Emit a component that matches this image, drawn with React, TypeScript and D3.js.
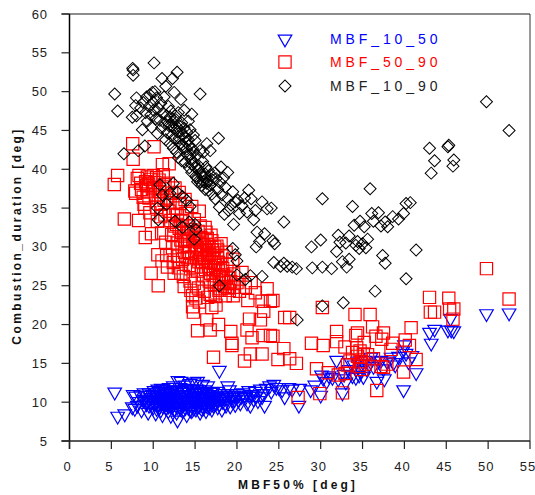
import React from "react";
import * as d3 from "d3";

const xTicks = [0,5,10,15,20,25,30,35,40,45,50,55];
const yTicks = [5,10,15,20,25,30,35,40,45,50,55,60];

const mbf1050: [number,number][] = [
[5.4,11.3],[5.75,8.2],[6.6,8.5],[7.6,11],[7.9,10.8],[7.5,9.4],[7.8,9.2],[8.1,9.6],[8.3,10.1],[8.6,9],[8.5,10.9],[8.9,11.2],[9,10.4],[9.2,9.8],[9.4,8.7],[9.5,11.2],[9.7,10.6],[9.8,10],[10,9.4],[10.1,11.5],[10.2,10.9],[10.3,8.6],[10.5,10.2],[10.6,9.7],[10.7,11.4],[10.8,11],[10.9,9],[11,10.4],[11.1,8.4],[11.2,11.7],[11.3,9.9],[11.4,10.7],[11.5,9.3],[11.6,11.2],[11.7,10.1],[11.8,8.9],[11.9,11.9],[12,10.5],[12.05,9.6],[12.1,8.3],[12.2,11.1],[12.3,10],[12.4,12.1],[12.5,9.1],[12.6,10.8],[12.7,11.5],[12.8,8.7],[12.9,7.7],[12.95,12.8],[13,10.3],[13.1,9.5],[13.2,11.9],[13.3,12.7],[13.4,10.9],[13.5,8.9],[13.6,11.3],[13.7,9.9],[13.8,12.2],[13.9,10.6],[14,8.4],[14.1,11.6],[14.2,9.3],[14.3,10.1],[14.4,12.4],[14.5,10.9],[14.6,8.9],[14.7,11.3],[14.8,9.7],[14.9,12.6],[15,10.4],[15.1,9.1],[15.2,11.7],[15.3,12.7],[15.4,10.7],[15.5,9.5],[15.6,8.7],[15.7,11.2],[15.8,10],[15.9,12.3],[16,9.3],[16.1,10.8],[16.2,11.6],[16.3,8.9],[16.4,10.3],[16.5,12.1],[16.6,9.7],[16.7,11],[16.8,10.4],[17,9.1],[17.1,11.3],[17.3,9.8],[17.4,10.6],[17.9,14.1],[17.6,11.4],[17.7,9.4],[17.8,10.3],[18,10.9],[18.2,9.1],[18.3,10.1],[18.5,11.1],[18.7,9.6],[18.8,10.6],[18.9,12.1],[19.1,11.6],[19.2,9.5],[19.4,10.3],[19.6,10.9],[19.8,9.7],[20,11.1],[20.2,10.3],[20.5,10.7],[20.7,11.2],[21,10.6],[21.2,9.9],[21.4,11.5],[21.6,9.6],[21.8,11],[22,10.4],[22.2,11.4],[22.5,10.2],[22.8,11.7],[23.1,11.1],[23.3,9.6],[23.5,11.8],[23.9,12.1],[24.1,11.4],[24.4,12.3],[24.7,11.9],[25.7,10.7],[25,11.9],[25.4,11.6],[26.2,11.9],[26.6,11.7],[27.4,9.6],[27.5,11.8],[28.8,11.6],[29.3,12.2],[30,10.9],[30.1,13.5],[30.3,13.1],[30.7,12.7],[31,13.4],[31.4,13.2],[31.9,15.4],[32.1,13],[32.6,11.2],[32.8,13.6],[33,12.6],[33.3,14.2],[33.6,15.1],[33.8,13.4],[34,14.8],[34.2,13.2],[34.4,15.3],[34.6,13.5],[34.8,14.1],[34.9,14.9],[35.1,13.3],[35.3,15.4],[35.5,14.3],[35.8,14.9],[36,15.8],[36.3,14.6],[36.7,12.7],[36.9,15.3],[37.2,15.4],[37.5,14.3],[37.6,13],[37.9,15.3],[38.4,15.8],[38.7,15.1],[38.9,14.8],[39.3,15.9],[39.8,16.6],[40,17.4],[40.2,16.3],[40.5,15.2],[40.9,16],[39.9,11.6],[41.4,13.8],[43,19],[43.6,19.4],[43.2,17.6],[45.2,19.3],[45.6,19.3],[45.9,19.2],[45.5,20.8],[49.8,21.4],[52.5,21.5],
[8.8,10.3],[9.1,10.9],[9.3,10.2],[9.5,9.6],[9.6,10.9],[9.9,11],[10,10.3],[10.15,9.9],[10.25,11.2],[10.4,9.2],[10.45,10.7],[10.55,11.7],[10.65,10.3],[10.75,9.4],[10.85,10.6],[10.95,11.8],[11.05,10],[11.15,9.5],[11.25,10.9],[11.35,11.4],[11.45,10.2],[11.55,9.8],[11.65,10.6],[11.75,11.6],[11.85,9.5],[11.95,10.2],[12.02,11.3],[12.15,10.3],[12.25,9.4],[12.35,11.5],[12.45,10.4],[12.55,9.9],[12.65,11.9],[12.75,10.1],[12.85,9.4],[12.92,11],[13.05,11.6],[13.15,10.6],[13.25,9.2],[13.35,10.2],[13.45,11.5],[13.55,9.6],[13.65,10.4],[13.75,11],[13.85,9.3],[13.95,11.8],[14.05,10],[14.15,10.8],[14.25,11.3],[14.35,9.7],[14.45,9],[14.55,11.7],[14.65,10.2],[14.75,10.6],[14.85,9.2],[14.95,11.1],[15.05,9.9],[15.15,10.7],[15.25,11.2],[15.35,9.5],[15.45,10.1],[15.55,11.6],[15.65,10.4],[15.75,9.2],[15.85,10.8],[15.95,11.4],[16.05,10],[16.15,9.6],[16.25,10.6],[16.35,11.2],[16.45,9.5],[16.55,10.8],[16.65,10.1],[16.75,9.4],[16.85,11.3],[16.95,10.2],[17.05,10.7],[17.2,9.6],[17.25,10.3],[17.5,9.9],[17.65,10.8],[17.9,9.8],[18.1,10.4],[18.4,10.7],[18.6,9.9],[19,10.9],[19.3,10.6],[19.7,10.3],[20.1,10.8],[20.4,9.9],[20.9,10.9],[21.5,10.8],[22.3,10.8],[23,10.7]
];

const mbf5090: [number,number][] = [
[5.35,38.05],[5.75,39.2],[6.55,33.6],[7.55,43.3],[7.6,41.3],[7.8,37.2],[7.9,36.9],[8.25,33.4],[8.1,38.8],[8.3,39.2],[8.5,38.2],[8.6,37.4],[8.8,36.4],[8.9,35.5],[9,35],[9.05,31.2],[9.2,37.9],[9.3,39],[9.45,38.1],[9.5,36.3],[9.6,34.4],[9.8,31.7],[9.75,26.6],[9.9,37.5],[10.1,42.9],[10,39.2],[10.2,38.3],[10.3,36.7],[10.4,35.1],[10.5,33.3],[10.55,29],[10.6,25],[10.7,38.6],[10.8,37.1],[10.9,33.9],[11,31.8],[11.05,28.2],[11.1,40.6],[11.2,39.3],[11.3,36],[11.4,34.1],[11.5,30.6],[11.6,28.9],[11.7,27.4],[11.8,38.2],[11.9,40.7],[12,35.7],[12.1,33.4],[12.2,31.6],[12.3,29.9],[12.4,28],[12.5,26.6],[12.6,37.6],[12.7,35],[12.8,32.9],[12.85,30.5],[12.9,28.8],[13,27.3],[13.1,37],[13.2,35.6],[13.3,33.3],[13.4,31.9],[13.45,30.1],[13.5,28.4],[13.6,26.2],[13.7,24.9],[13.8,36.1],[13.9,34.3],[14,32.7],[14.1,31],[14.2,29.4],[14.3,27.6],[14.4,25.6],[14.5,24.4],[14.7,22.3],[14.8,21.6],[14.6,35.2],[14.9,33.5],[15,31.7],[15.1,30.2],[15.2,28.6],[15.3,26.9],[15.3,19.2],[15.4,24.7],[15.5,34.6],[15.6,32.7],[15.7,31.2],[15.8,29.7],[15.9,28.1],[16,26.4],[16.1,24.3],[16.2,32.5],[16.3,31.9],[16.4,30.3],[16.5,28.9],[16.4,20.6],[16.6,27.5],[16.7,25.6],[16.8,23.9],[16.8,19.3],[16.9,31.5],[17,30.8],[17.1,29.2],[17.2,27.1],[17.2,15.8],[17.3,25.1],[17.4,23.6],[17.5,22.5],[17.6,30.1],[17.7,29.6],[17.8,28],[17.8,20],[17.9,26.2],[18,24.6],[18.1,30.4],[18.2,28.9],[18.3,27.2],[18.4,25.4],[18.6,23.7],[18.7,29.3],[18.8,27.8],[19,26],[19.1,24.4],[19.26,19.1],[19.4,17.6],[19.4,17.3],[19.5,28.4],[19.6,26.5],[19.7,24.8],[20,25.4],[20.3,24.3],[20.6,26.7],[20.9,15.3],[21,24.8],[21.2,19.3],[21.3,23.1],[21.5,20.7],[21.6,16.2],[21.7,25.4],[21.8,18.3],[22.2,24.1],[22.8,20.6],[23,16.2],[23,23],[23.1,18.6],[23.2,21.7],[23.6,24.6],[24,18.6],[24,23],[24.3,23.1],[24.3,18.5],[24.9,15.5],[25.6,16.9],[25.7,20.9],[26.3,20.9],[26.3,15.6],[27.1,15],[27.3,10.6],[28.9,17.6],[29.5,14.3],[29.9,11.1],[30.2,22.2],[30.3,17.3],[30.9,13.8],[31.9,19.1],[31.9,17.8],[32.1,13.5],[32.6,11.2],[32.9,17.1],[32.9,13.7],[33.2,14.8],[33.5,15.3],[33.8,16.4],[34.1,21.3],[34.2,18.6],[34.3,17],[34.4,18.9],[34.4,15.9],[34.6,14.6],[34.7,16.6],[34.8,15.2],[34.9,14.2],[35.1,16.2],[35.2,17.7],[35.3,14.9],[35.6,16.1],[35.9,21.3],[36.2,19.7],[36.3,15.6],[36.6,18.5],[36.7,11.5],[37.3,18.1],[37.5,18.9],[37.2,14.6],[37.5,14.5],[37.9,14.9],[38.6,17.6],[38.4,16.8],[39.9,13.9],[40.1,18],[40.6,17.3],[40.8,19.6],[41.4,15.5],[43,23.5],[43.1,21.6],[43.6,21.6],[45.3,23.4],[45.4,22],[45.9,22],[45.8,20.7],[49.8,27.2],[52.5,23.3],
[9.1,38.4],[9.4,37.2],[9.7,38.7],[10.1,37.7],[10.4,38.9],[10.6,36.4],[10.9,35.6],[11.1,37.5],[11.4,38],[11.6,36.3],[11.9,34.6],[12.2,36.9],[12.4,34.2],[12.6,32.7],[12.9,34.1],[13.1,32.4],[13.3,30.9],[13.5,33.4],[13.7,31.4],[13.75,29.3],[13.9,30.7],[14.05,28.6],[14.2,31.9],[14.35,30.1],[14.5,32.2],[14.6,28.7],[14.75,30.8],[14.85,27.4],[15,29.5],[15.1,31.2],[15.25,29.9],[15.35,32],[15.45,28.1],[15.55,30.6],[15.65,29.3],[15.75,27.4],[15.85,31],[15.95,29.1],[16.05,30.2],[16.15,28.5],[16.25,27.1],[16.35,29.6],[16.45,31.1],[16.55,28.2],[16.65,30],[16.75,29],[16.85,26.6],[16.95,28],[17.05,29.6],[17.15,26.3],[17.25,28.5],[17.35,30],[17.45,27.6],[17.55,25.8],[17.65,28.6],[17.75,26.9],[17.85,24.4],[18.05,27],[18.15,25.4],[18.35,26.4],[18.55,24.9],[18.75,26],[18.95,24.7],[19.25,25.5],[19.55,23.7],[13.3,26.6],[14.9,25.3],[14.7,23.7],[15.1,23.4],[15.5,22.9],[16.5,23.5],[17,22.2]
];

const mbf1090: [number,number][] = [
[5.4,49.7],[5.75,47.5],[6.5,42],[7.5,46.7],[7.55,53],[7.6,52.1],[7.6,52.8],[7.9,48.2],[8,46.9],[8,49.2],[8.2,42.4],[8.5,47.9],[8.7,45.1],[8.8,48.6],[9,43],[9.1,47.3],[9.2,49.3],[9.3,46.2],[9.5,48.1],[9.6,49.6],[9.7,47],[9.8,45.4],[9.9,49.9],[10,48.6],[10.1,53.7],[10.05,47.6],[10.2,50],[10.3,46.5],[10.4,49.2],[10.5,44.6],[10.6,47.9],[10.8,46.3],[10.9,48.5],[11.05,51.7],[11,45.3],[11.2,47.2],[11.3,49.3],[11.5,50.7],[11.4,45.9],[11.5,43.8],[11.6,46.9],[11.7,44.7],[11.8,48.1],[11.9,45.6],[12,46.7],[12,43.3],[12.1,47.5],[12.2,44.3],[12.3,51.7],[12.3,46.1],[12.4,42.7],[12.5,45.2],[12.5,49.9],[12.6,43.9],[12.7,46.4],[12.85,52.5],[12.8,42.2],[12.9,44.8],[13,47.3],[13,41.5],[13.1,45.6],[13.2,43.3],[13.3,49],[13.4,46],[13.4,41.1],[13.5,44.4],[13.6,42.7],[13.7,45.3],[13.7,47.6],[13.8,40.9],[13.9,43.5],[14,44.8],[14.1,41.9],[14.2,46.2],[14.3,40.2],[14.3,43.1],[14.4,45.1],[14.5,41.3],[14.6,47.1],[14.6,39.6],[14.7,42.6],[14.8,44.4],[14.9,40.8],[15,43.7],[15.1,39.1],[15.2,41.8],[15.3,38.4],[15.4,40.5],[15.6,49.7],[15.6,42.4],[15.7,39.6],[15.8,37.9],[15.9,41],[16,42.2],[16.1,39],[16.2,37.4],[16.3,40.3],[16.4,43.3],[16.5,38.5],[16.6,39.8],[16.8,42.4],[16.8,37.9],[16.9,39.2],[17,36.8],[17.1,38.6],[17.3,39.5],[17.4,36.2],[17.5,38.8],[17.7,37.4],[17.8,44],[17.9,35.1],[18,38.3],[18.1,40.3],[18.2,36.7],[18.4,38.9],[18.5,34.2],[18.6,37.7],[18.9,39.6],[18.9,36.2],[19,34.7],[19.3,35.4],[19.5,37.1],[19.6,32.9],[19.8,35.8],[20.1,36],[20.3,34.3],[20.6,35.3],[20.9,36.3],[21.2,34.5],[21.4,37.3],[21.7,36.2],[22,33.5],[22.2,34.7],[22.4,31.9],[22.7,30.7],[23,35.8],[23.3,31.7],[23.6,34.9],[24.1,35],[24.3,30.8],[24.5,30.4],[25.6,33.2],[19.8,29],[20,28.2],[20,26.4],[19.5,29.8],[17.9,25],[21,25.8],[21.6,26.3],[22.3,30],[23,26.2],[24.4,28],[25.2,27.5],[25.6,27.9],[26,27.5],[26.6,27.4],[27.1,27.2],[27.2,20.6],[28.9,30],[29,27.3],[30,30.9],[30.2,36.2],[30.2,22.4],[30.2,27.4],[31.3,27.2],[31.9,29.4],[32.1,31.5],[32.3,30.6],[32.6,28.1],[32.7,22.8],[33,30.5],[33.1,27.4],[33.4,28.4],[33.4,31.4],[33.8,35.2],[34,32.8],[34.2,30.2],[34.4,30.7],[34.6,29.8],[34.7,33.3],[35,30.4],[35.2,32.6],[35.4,29.9],[35.6,31],[35.9,37.5],[36.1,34.3],[36.5,24.3],[36.3,33.3],[36.9,34.4],[37.2,32.7],[37.4,28.9],[37.7,33.2],[37.7,27.9],[38,32.6],[38.6,33.9],[39.3,33.6],[39.9,34.3],[40.2,25.9],[40.2,35.6],[40.7,35.7],[41.4,29.6],[43,42.7],[43.2,39.5],[43.6,41.1],[45.2,42.9],[45.3,43.1],[45.8,40.4],[45.9,41.2],[49.8,48.7],[52.5,45],
[10.8,38],[11.1,36.7],[12,36.9],[12.4,38.2],[12.9,37],[13.5,36.5],[14,36],[14.4,35.2],[11.6,35.5],[10.5,35],[10.6,33.5],[12.6,33.3],[13.5,32.5],[14.3,33.2],[15.1,32.2],[14.9,31],[15,32.9],[11.7,46.1],[12.2,45.6],[12.6,46.9],[12.8,45.5],[13.1,44],[13.3,44.9],[13.5,43.2],[13.8,44.1],[14,42.6],[14.2,43.8],[14.4,41.9],[14.6,40.6],[14.8,42.2],[15,40.3],[15.2,38.9],[15.4,40],[15.6,38.4],[15.8,39.2],[16,38.4],[16.2,39.4],[16.4,38.2],[16.6,37.3]
];

const seriesNames = ["MBF_10_50", "MBF_50_90", "MBF_10_90"];
const seriesColors = ["#0000ff", "#ff0000", "#000000"];
const xTitle = "MBF50% [deg]";
const yTitle = "Combustion_duration [deg]";

const x = d3.scaleLinear().domain([0, 55]).range([69.5, 530]);
const y = d3.scaleLinear().domain([5, 60]).range([441, 14]);

const squarePath = d3.symbol().type(d3.symbolSquare).size(150)() as string;
const diamondPath = d3.symbol().type(d3.symbolSquare).size(72)() as string;
const trianglePath = d3.symbol().type(d3.symbolTriangle).size(80)() as string;

const font = "'Liberation Sans', Arial, sans-serif";

function Tri({ cx, cy, c }: { cx: number; cy: number; c: string }) {
  return <path d={trianglePath} transform={`translate(${cx},${cy}) rotate(180)`} fill="none" stroke={c} strokeWidth={1.2} />;
}
function Sq({ cx, cy, c }: { cx: number; cy: number; c: string }) {
  return <path d={squarePath} transform={`translate(${cx},${cy})`} fill="none" stroke={c} strokeWidth={1.2} />;
}
function Dia({ cx, cy, c }: { cx: number; cy: number; c: string }) {
  return <path d={diamondPath} transform={`translate(${cx},${cy}) rotate(45)`} fill="none" stroke={c} strokeWidth={1} />;
}

export default function App() {
  const left = x(0), right = x(55), top = y(60), bottom = y(5);
  const legendY = [39, 62, 86];
  return (
    <svg width={535} height={495} style={{ position: "absolute", left: 0, top: 0, background: "#fff" }} fontFamily={font}>
      <g>
        {mbf1050.map((d, i) => <Tri key={i} cx={x(d[0])} cy={y(d[1])} c={seriesColors[0]} />)}
        {mbf5090.map((d, i) => <Sq key={i} cx={x(d[0])} cy={y(d[1])} c={seriesColors[1]} />)}
        {mbf1090.map((d, i) => <Dia key={i} cx={x(d[0])} cy={y(d[1])} c={seriesColors[2]} />)}
      </g>
      <line x1={left - 8} x2={right} y1={top} y2={top} stroke="#666" strokeWidth={1.5} />
      <line x1={right} x2={right} y1={top} y2={bottom} stroke="#333" strokeWidth={1} />
      <line x1={left} x2={left} y1={top} y2={bottom + 8} stroke="#000" strokeWidth={1.5} />
      <line x1={left - 8} x2={right} y1={bottom} y2={bottom} stroke="#222" strokeWidth={1.5} />
      {yTicks.map(t => (
        <g key={t}>
          <line x1={left - 8} x2={left} y1={y(t)} y2={y(t)} stroke="#222" strokeWidth={1.2} />
          <text x={48} y={y(t) + 4.5} textAnchor="end" fontSize={13} letterSpacing={0.9} fill="#222">{t}</text>
        </g>
      ))}
      {xTicks.map(t => (
        <g key={t}>
          <line x1={x(t)} x2={x(t)} y1={bottom} y2={bottom + 8} stroke="#222" strokeWidth={1.2} />
          <text x={x(t) - 2} y={471} textAnchor="middle" fontSize={13} letterSpacing={0.9} fill="#222">{t}</text>
        </g>
      ))}
      <text x={298} y={489} textAnchor="middle" fontSize={12} fontWeight="bold" letterSpacing={3.1} fill="#111">{xTitle}</text>
      <text transform={`translate(21,236) rotate(-90)`} textAnchor="middle" fontSize={12} fontWeight="bold" letterSpacing={2.4} fill="#111">{yTitle}</text>
      <Tri cx={285} cy={39} c={seriesColors[0]} />
      <Sq cx={285} cy={62} c={seriesColors[1]} />
      <Dia cx={285} cy={86} c={seriesColors[2]} />
      {seriesNames.map((n, i) => (
        <text key={n} x={330} y={legendY[i] + 5} fontSize={14} letterSpacing={3.9} fill={i === 2 ? "#222" : seriesColors[i]}>{n}</text>
      ))}
    </svg>
  );
}
